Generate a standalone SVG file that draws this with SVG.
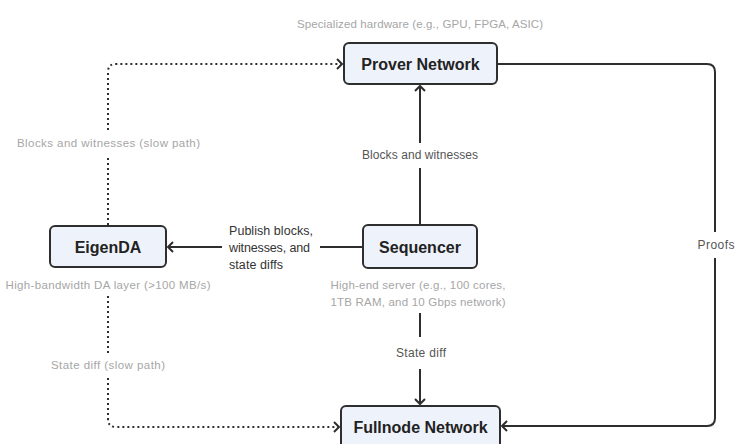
<svg xmlns="http://www.w3.org/2000/svg" width="741" height="444" viewBox="0 0 741 444">
<style>
  .box { fill: #eef2fb; stroke: #2e2e2e; stroke-width: 2; }
  .name { font-family: "Liberation Sans", Arial, sans-serif; font-size: 16px; font-weight: bold; fill: #222; text-anchor: middle; }
  .note { font-family: "Liberation Sans", Arial, sans-serif; font-size: 11.5px; fill: #a6a6a6; text-anchor: middle; }
  .lbl { font-family: "Liberation Sans", Arial, sans-serif; font-size: 12px; fill: #555; text-anchor: middle; }
  .pub { font-family: "Liberation Sans", Arial, sans-serif; font-size: 12.5px; fill: #333; }
  .solid { fill: none; stroke: #2e2e2e; stroke-width: 2; }
  .dot { fill: none; stroke: #2e2e2e; stroke-width: 2; stroke-dasharray: 2 3; }
</style>
<defs>
  <marker id="arr" markerUnits="userSpaceOnUse" markerWidth="12" markerHeight="12" refX="9" refY="6" orient="auto">
    <path d="M4,1 L9,6 L4,11" fill="none" stroke="#2e2e2e" stroke-width="2"/>
  </marker>
</defs>
<rect width="741" height="444" fill="#ffffff"/>

<g id="connectors">
  <!-- Sequencer -> Prover -->
  <path class="solid" d="M420,225 V168"/>
  <path class="solid" d="M420,143 V86" marker-end="url(#arr)"/>
  <text class="lbl" x="420" y="159" textLength="116">Blocks and witnesses</text>
  <!-- Sequencer -> EigenDA -->
  <path class="solid" d="M362,247 H320"/>
  <path class="solid" d="M222,247 H168" marker-end="url(#arr)"/>
  <text class="pub" x="229" y="235" textLength="84">Publish blocks,</text>
  <text class="pub" x="229" y="252" textLength="81">witnesses, and</text>
  <text class="pub" x="229" y="269" textLength="54">state diffs</text>
  <!-- Prover -> Fullnode (Proofs) -->
  <path class="solid" d="M497,64 H707 Q715,64 715,72 V232"/>
  <path class="solid" d="M715,258 V418 Q715,426 707,426 H502" marker-end="url(#arr)"/>
  <text class="lbl" x="716" y="249" textLength="37">Proofs</text>
  <!-- Sequencer -> Fullnode -->
  <path class="solid" d="M420,313 V337"/>
  <path class="solid" d="M420,369 V404" marker-end="url(#arr)"/>
  <text class="lbl" x="421" y="357" textLength="50">State diff</text>
  <!-- EigenDA -> Prover (slow path) -->
  <path class="dot" d="M108,225 V157"/>
  <path class="dot" d="M108,130 V72 Q108,64 116,64 H342" marker-end="url(#arr)"/>
  <text class="note" x="108.5" y="147" textLength="183">Blocks and witnesses (slow path)</text>
  <!-- EigenDA -> Fullnode (slow path) -->
  <path class="dot" d="M108,296 V354"/>
  <path class="dot" d="M108,378 V419 Q108,427 116,427 H339" marker-end="url(#arr)"/>
  <text class="note" x="108" y="369" textLength="114">State diff (slow path)</text>
</g>

<g id="prover">
  <text class="note" x="420" y="28" textLength="246">Specialized hardware (e.g., GPU, FPGA, ASIC)</text>
  <rect class="box" x="344" y="43" width="153" height="41" rx="5"/>
  <text class="name" x="420.5" y="69.5">Prover Network</text>
</g>

<g id="eigenda">
  <rect class="box" x="50" y="226" width="116" height="41" rx="5"/>
  <text class="name" x="108" y="252.5">EigenDA</text>
  <text class="note" x="108" y="289" textLength="205">High-bandwidth DA layer (&gt;100 MB/s)</text>
</g>

<g id="sequencer">
  <rect class="box" x="363" y="225" width="114" height="43" rx="5"/>
  <text class="name" x="420" y="252.5">Sequencer</text>
  <text class="note" x="418" y="289" textLength="175">High-end server (e.g., 100 cores,</text>
  <text class="note" x="418" y="306" textLength="175">1TB RAM, and 10 Gbps network)</text>
</g>

<g id="fullnode">
  <rect class="box" x="341" y="406" width="159" height="42" rx="5"/>
  <text class="name" x="420.5" y="432.5">Fullnode Network</text>
</g>
</svg>
